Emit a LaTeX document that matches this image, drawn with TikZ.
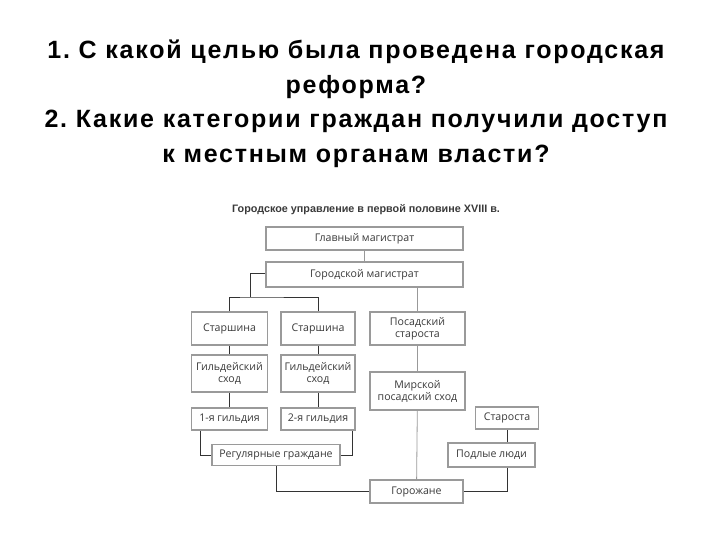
\documentclass[tikz,border=0pt]{standalone}
\usepackage{fontspec}
\setmainfont{Liberation Sans}
\newfontfamily\boxfont{Open Sans}
\newfontfamily\headfont[LetterSpace=7]{Liberation Sans}
\usetikzlibrary{positioning}
\definecolor{BoxGray}{HTML}{9A9A9A}
\definecolor{TextGray}{HTML}{3A3A3A}
\frenchspacing

\begin{document}
\begin{tikzpicture}[x=1pt,y=-1pt,
  unit/.style={draw=BoxGray,line width=1.8pt,fill=white,text=TextGray,font=\boxfont\fontsize{10.6}{12}\selectfont,align=center,inner sep=0.5pt},
  link/.style={draw=black!80,line width=0.8pt},
  faint/.style={draw=black!40,line width=0.8pt}]
  \useasboundingbox (0,0) rectangle (720,540);
  % heading
  \node[font=\headfont\bfseries\fontsize{25}{34.5}\selectfont,align=center] (title) at (356,104) {1. С какой целью была проведена городская\\реформа?\\2. Какие категории граждан получили доступ\\к местным органам власти?};
  \node[font=\bfseries\fontsize{10.8}{12}\selectfont,text=TextGray] (caption) at (366,210) {Городское управление в первой половине XVIII в.};
  % boxes
  \node[unit,minimum width=197pt,minimum height=23pt] (glav) at (364.5,238.5) {Главный магистрат};
  \node[unit,minimum width=197pt,minimum height=25pt] (gorod) at (364.5,274.5) {Городской магистрат};
  \node[unit,minimum width=76pt,minimum height=33pt] (star1) at (229.5,328.5) {Старшина};
  \node[unit,minimum width=74pt,minimum height=33pt] (star2) at (318,328.5) {Старшина};
  \node[unit,minimum width=95pt,minimum height=33pt] (posstar) at (417.5,328.5) {Посадский\\староста};
  \node[unit,minimum width=76pt,minimum height=37pt] (gild1) at (229.5,373.5) {Гильдейский\\сход};
  \node[unit,minimum width=74pt,minimum height=37pt] (gild2) at (318,373.5) {Гильдейский\\сход};
  \node[unit,minimum width=95pt,minimum height=38pt] (mir) at (417.5,391) {Мирской\\посадский сход};
  \node[unit,minimum width=76pt,minimum height=22pt] (guild1) at (229.5,419) {1-я гильдия};
  \node[unit,minimum width=74pt,minimum height=22pt] (guild2) at (318,419) {2-я гильдия};
  \node[unit,minimum width=63pt,minimum height=22pt] (starosta) at (507,418) {Староста};
  \node[unit,minimum width=128pt,minimum height=21pt] (reg) at (276,455) {Регулярные граждане};
  \node[unit,minimum width=87pt,minimum height=24pt] (podl) at (491.5,455) {Подлые люди};
  \node[unit,minimum width=93pt,minimum height=23pt] (gorozh) at (416.5,491.5) {Горожане};
  % connectors
  \coordinate (split) at (250,297);
  \draw[faint] (glav) -- (gorod);
  \draw[link] (gorod.west |- 0,273) -| (split);
  \draw[link] (star1.north) |- (split) -| (star2.north);
  \draw[faint] (gorod.south -| posstar) -- (posstar);
  \draw[link] (star1) -- (gild1);
  \draw[link] (star2) -- (gild2);
  \draw[link] (gild1) -- (guild1);
  \draw[link] (gild2) -- (guild2);
  \draw[faint] (posstar) -- (mir);
  \draw[faint] (mir) -- (gorozh);
  \draw[link] (guild1.south -| 200,0) |- (reg.west);
  \draw[link] (guild2.south -| 352,0) |- (reg.east);
  \draw[link] (reg.south) |- (gorozh.west);
  \draw[link] (starosta) -- (starosta |- podl.north);
  \draw[link] (gorozh.east) -| (starosta |- podl.south);
\end{tikzpicture}
\end{document}
